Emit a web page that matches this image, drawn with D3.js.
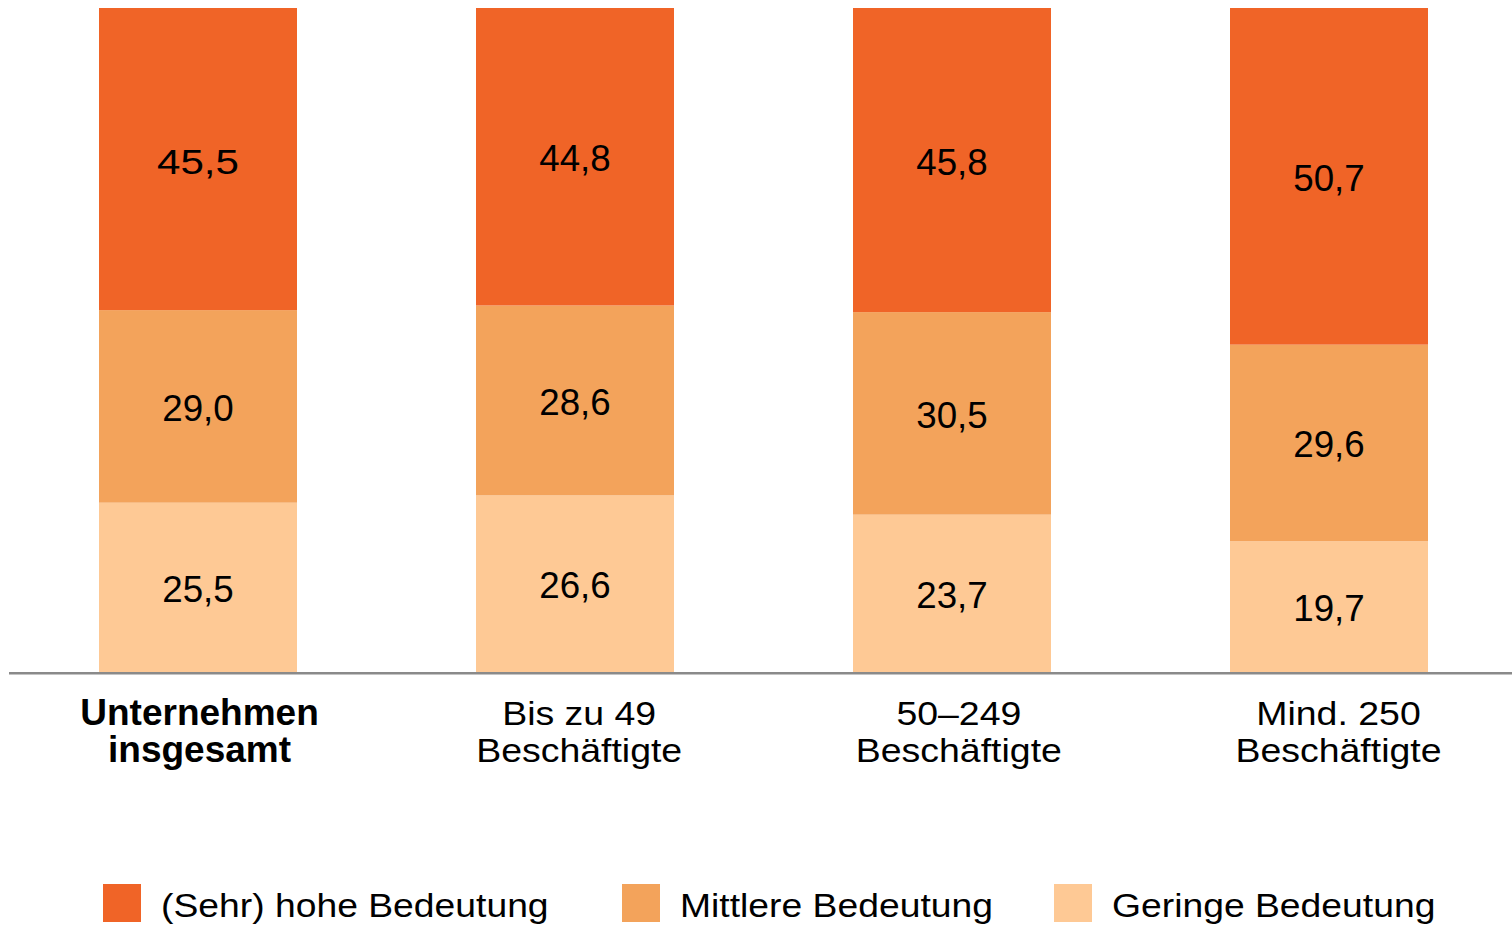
<!DOCTYPE html>
<html lang="de">
<head>
<meta charset="utf-8">
<title>Bedeutung nach Unternehmensgröße</title>
<script src="https://cdn.jsdelivr.net/npm/d3@7"></script>
<style>
  html, body { margin: 0; padding: 0; background: #fff; }
  svg { display: block; font-family: "Liberation Sans", Arial, Helvetica, sans-serif; }
</style>
</head>
<body>
<svg id="chart" width="1512" height="926"></svg>
<script>
// Größenklassen (first line / second line of the axis label)
const categories = ["Unternehmen insgesamt", "Bis zu 49 Beschäftigte", "50–249 Beschäftigte", "Mind. 250 Beschäftigte"];
const categoryLines = [["Unternehmen", "insgesamt"], ["Bis zu 49", "Beschäftigte"], ["50–249", "Beschäftigte"], ["Mind. 250", "Beschäftigte"]];

// Shares in percent, per category
const seriesNames = ["(Sehr) hohe Bedeutung", "Mittlere Bedeutung", "Geringe Bedeutung"];
const hoheBedeutung    = [45.5, 44.8, 45.8, 50.7];
const mittlereBedeutung = [29.0, 28.6, 30.5, 29.6];
const geringeBedeutung  = [25.5, 26.6, 23.7, 19.7];

const colors = ["#F06427", "#F3A35B", "#FEC995"];

const svg = d3.select("#chart");

// Layout
const plotBottom = 672, plotTop = 8;
const x = d3.scaleBand().domain(categories).range([99, 1428]).paddingInner(0.4748).paddingOuter(0);
const labelX = d3.scalePoint().domain(categories).range([199.5, 1338.5]);
const y = d3.scaleLinear().domain([0, 100]).range([plotBottom, plotTop]);
const color = d3.scaleOrdinal().domain(seriesNames).range(colors);

// Stack from the bottom: Geringe, Mittlere, (Sehr) hohe
const rows = categories.map((c, i) => ({
  cat: c,
  "(Sehr) hohe Bedeutung": hoheBedeutung[i],
  "Mittlere Bedeutung": mittlereBedeutung[i],
  "Geringe Bedeutung": geringeBedeutung[i]
}));
const stack = d3.stack().keys(seriesNames.slice().reverse());
const layers = stack(rows);

const fmt = v => d3.format(".1f")(v).replace(".", ",");

const g = svg.append("g");
const layer = g.selectAll("g.layer")
  .data(layers)
  .join("g")
  .attr("class", "layer")
  .attr("fill", d => color(d.key));

layer.selectAll("rect")
  .data(d => d)
  .join("rect")
  .attr("x", d => x(d.data.cat))
  .attr("width", x.bandwidth())
  .attr("y", d => y(d[1]))
  .attr("height", d => y(d[0]) - y(d[1]));

// Value labels centred in each segment
layers.forEach(L => {
  g.append("g").selectAll("text")
    .data(L)
    .join("text")
    .attr("transform", (d, i) => {
      const cx = x(d.data.cat) + x.bandwidth() / 2;
      const cy = (y(d[0]) + y(d[1])) / 2 + 14.5;
      // the total column's leading figure is set a little wider
      const sx = (i === 0 && L.key === seriesNames[0]) ? 1.17 : 1.02;
      return `translate(${cx},${cy}) scale(${sx},1)`;
    })
    .attr("text-anchor", "middle")
    .attr("font-size", 36)
    .attr("fill", "#000")
    .text(d => fmt(d[1] - d[0]));
});

// Baseline
svg.append("line")
  .attr("x1", 9).attr("x2", 1512)
  .attr("y1", y(0) + 1.2).attr("y2", y(0) + 1.2)
  .attr("stroke", "#8a8a8a")
  .attr("stroke-width", 2.6);

// Category labels
const catG = svg.append("g");
categories.forEach((c, i) => {
  const bold = i === 0;
  categoryLines[i].forEach((line, j) => {
    catG.append("text")
      .attr("transform", `translate(${labelX(c)},${[725, 762][j]}) scale(${bold ? 1 : 1.135},1)`)
      .attr("text-anchor", "middle")
      .attr("font-size", bold ? 37 : 33)
      .attr("font-weight", bold ? "bold" : "normal")
      .attr("fill", "#000")
      .text(line);
  });
});

// Legend
const legendX = [103, 622, 1054];
const legend = svg.append("g");
seriesNames.forEach((name, i) => {
  legend.append("rect")
    .attr("x", legendX[i]).attr("y", 884)
    .attr("width", 38).attr("height", 38)
    .attr("fill", color(name));
  legend.append("text")
    .attr("transform", `translate(${legendX[i] + 58},917.3) scale(1.13,1)`)
    .attr("font-size", 33)
    .attr("fill", "#000")
    .text(name);
});
</script>
</body>
</html>
